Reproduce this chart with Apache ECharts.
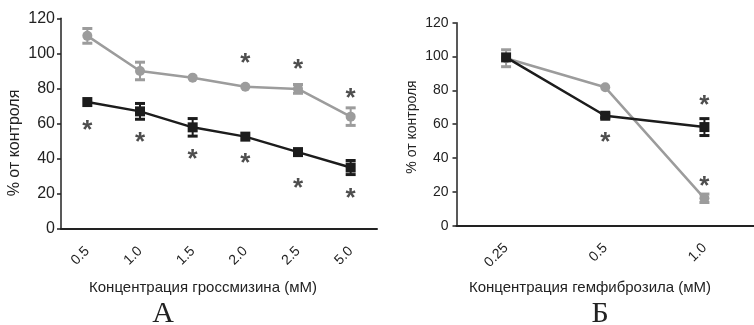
<!DOCTYPE html>
<html>
<head>
<meta charset="utf-8">
<script src="https://cdn.jsdelivr.net/npm/echarts@6/dist/echarts.min.js"></script>
<style>
  html, body { margin: 0; padding: 0; background: #fff; }
  #chart { width: 754px; height: 325px; }
</style>
</head>
<body>
<div id="chart"></div>
<script>
// Panel A: grossmisin concentration
const grossCats = ['0.5', '1.0', '1.5', '2.0', '2.5', '5.0'];
const grossGray = [110, 90, 86.2, 81, 79.8, 64];
const grossGrayErr = [4.2, 5, 0, 0, 2.5, 5];
const grossBlack = [72.3, 67, 57.9, 52.6, 43.8, 35];
const grossBlackErr = [0, 4.5, 5, 0, 0, 4];
// asterisk positions [category index, value]
const grossStars = [[0, 58.6], [1, 52], [2, 42.5], [3, 40.2], [4, 26], [5, 20.3], [3, 97.2], [4, 93.4], [5, 76.7]];

// Panel Б: gemfibrozil concentration
const gemCats = ['0.25', '0.5', '1.0'];
const gemGray = [99, 81.8, 16.2];
const gemGrayErr = [5, 0, 2.5];
const gemBlack = [99.5, 65, 58.3];
const gemBlackErr = [0, 1.2, 5];
const gemStars = [[1, 52.2], [2, 73.9], [2, 26]];

const GRAY = '#9c9c9c';
const BLACK = '#1c1c1c';
const TXT = '#222';

const chart = echarts.init(document.getElementById('chart'));

function errData(vals, errs) {
  return vals.map((v, i) => [i, v - errs[i], v + errs[i]]).filter((d, i) => errs[i] > 0);
}

function errSeries(idx, vals, errs, color) {
  return {
    type: 'custom',
    xAxisIndex: idx,
    yAxisIndex: idx,
    z: 3,
    data: errData(vals, errs),
    renderItem: (params, api) => {
      const lo = api.coord([api.value(0), api.value(1)]);
      const hi = api.coord([api.value(0), api.value(2)]);
      const w = 5;
      const style = { stroke: color, lineWidth: 3 };
      return {
        type: 'group',
        children: [
          { type: 'line', shape: { x1: lo[0], y1: lo[1], x2: hi[0], y2: hi[1] }, style: { stroke: color, lineWidth: 2 } },
          { type: 'line', shape: { x1: lo[0] - w, y1: lo[1], x2: lo[0] + w, y2: lo[1] }, style },
          { type: 'line', shape: { x1: hi[0] - w, y1: hi[1], x2: hi[0] + w, y2: hi[1] }, style }
        ]
      };
    }
  };
}

function lineSeries(idx, vals, color, symbol, size) {
  return {
    type: 'line',
    xAxisIndex: idx,
    yAxisIndex: idx,
    data: vals,
    symbol: symbol,
    symbolSize: size,
    showSymbol: true,
    z: 4,
    lineStyle: { color: color, width: 2.5 },
    itemStyle: { color: color }
  };
}

function starSeries(idx, pts) {
  return {
    type: 'scatter',
    xAxisIndex: idx,
    yAxisIndex: idx,
    data: pts,
    symbolSize: 1,
    itemStyle: { color: 'rgba(0,0,0,0)' },
    z: 5,
    label: {
      show: true,
      position: 'inside',
      formatter: '*',
      fontFamily: 'Liberation Sans',
      fontWeight: 'bold',
      fontSize: 26,
      color: TXT,
      offset: [0, 5]
    }
  };
}

function xAxis(idx, cats, fs) {
  return {
    type: 'category',
    gridIndex: idx,
    data: cats,
    boundaryGap: true,
    axisLine: { lineStyle: { color: TXT, width: 2 } },
    axisTick: { alignWithLabel: true, length: 7, lineStyle: { color: TXT, width: 2 } },
    axisLabel: { rotate: 45, margin: 20, color: TXT, fontSize: fs, fontFamily: 'Liberation Sans' }
  };
}

function yAxis(idx, fs, margin) {
  return {
    type: 'value',
    gridIndex: idx,
    min: 0,
    max: 120,
    interval: 20,
    splitLine: { show: false },
    axisLine: { show: true, lineStyle: { color: TXT, width: 1.5 } },
    axisTick: { show: true, length: 4, lineStyle: { color: TXT, width: 1.5 } },
    axisLabel: { color: TXT, fontSize: fs, margin: margin, fontFamily: 'Liberation Sans' }
  };
}

const option = {
  animation: false,
  backgroundColor: '#fff',
  grid: [
    { left: 61, top: 18.3, width: 316, height: 210.7 },
    { left: 456.5, top: 22.7, width: 305, height: 203 }
  ],
  xAxis: [xAxis(0, grossCats, 14), xAxis(1, gemCats, 14)],
  yAxis: [yAxis(0, 16, 6), yAxis(1, 14, 8)],
  graphic: [
    { type: 'text', x: 15, y: 143, rotation: Math.PI / 2, style: { text: '% от контроля', fill: TXT, font: '16px "Liberation Sans"', align: 'center', verticalAlign: 'middle' } },
    { type: 'text', x: 412, y: 127, rotation: Math.PI / 2, style: { text: '% от контроля', fill: TXT, font: '14px "Liberation Sans"', align: 'center', verticalAlign: 'middle' } },
    { type: 'text', x: 203, y: 288, style: { text: 'Концентрация гроссмизина (мМ)', fill: TXT, font: '15px "Liberation Sans"', align: 'center', verticalAlign: 'middle' } },
    { type: 'text', x: 590, y: 288, style: { text: 'Концентрация гемфиброзила (мМ)', fill: TXT, font: '15px "Liberation Sans"', align: 'center', verticalAlign: 'middle' } },
    { type: 'text', x: 163, y: 314, style: { text: 'А', fill: TXT, font: '30px "Liberation Serif"', align: 'center', verticalAlign: 'middle' } },
    { type: 'text', x: 600, y: 314, style: { text: 'Б', fill: TXT, font: '30px "Liberation Serif"', align: 'center', verticalAlign: 'middle' } }
  ],
  series: [
    errSeries(0, grossGray, grossGrayErr, GRAY),
    lineSeries(0, grossGray, GRAY, 'circle', 10),
    errSeries(0, grossBlack, grossBlackErr, BLACK),
    lineSeries(0, grossBlack, BLACK, 'rect', 10),
    starSeries(0, grossStars),
    errSeries(1, gemGray, gemGrayErr, GRAY),
    lineSeries(1, gemGray, GRAY, 'circle', 10),
    errSeries(1, gemBlack, gemBlackErr, BLACK),
    lineSeries(1, gemBlack, BLACK, 'rect', 10),
    starSeries(1, gemStars)
  ]
};

chart.setOption(option);
</script>
</body>
</html>
